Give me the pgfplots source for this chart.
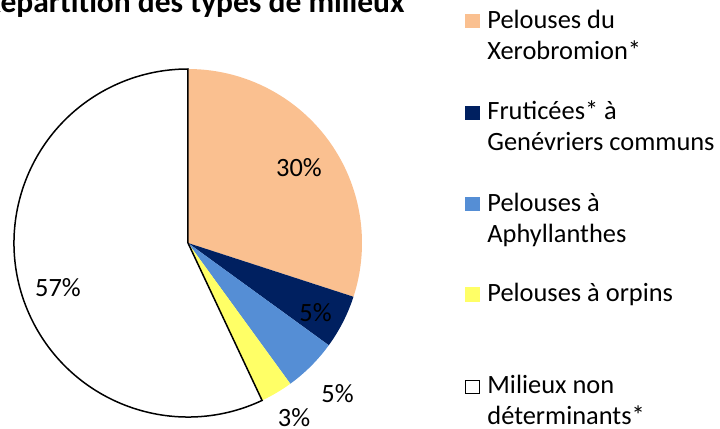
\documentclass[border=0pt]{standalone}
\usepackage{pgfplots}
\pgfplotsset{compat=1.18}
\usepackage{fontspec}
\setmainfont{Carlito}
\definecolor{cxero}{HTML}{FAC090}
\definecolor{cfrut}{HTML}{002060}
\definecolor{caphy}{HTML}{558ED5}
\definecolor{corp}{HTML}{FFFF66}
% #1 cumulative start (%), #2 value (%), #3 style
\newcommand{\slice}[3]{%
  \pgfmathsetmacro\sa{90-3.6*#1}%
  \pgfmathsetmacro\sb{90-3.6*(#1+#2)}%
  \edef\tmp{\noexpand\path[#3] (axis cs:188,186) -- ++(\sa:87pt) arc[start angle=\sa, end angle=\sb, radius=87pt] -- cycle;}%
  \tmp}
\newcommand{\lf}{\fontsize{13.2}{16}\selectfont}
\begin{document}
\begin{tikzpicture}
\begin{axis}[hide axis, x=0.5pt, y=0.5pt, xmin=0, xmax=720, ymin=0, ymax=429,
  clip=false, axis line style={draw=none}]
% pie slices: Xerobromion 30, Fruticees 5, Aphyllanthes 5, Orpins 3, Milieux 57
\slice{0}{30}{fill=cxero}
\slice{30}{5}{fill=cfrut}
\slice{35}{5}{fill=caphy}
\slice{40}{3}{fill=corp}
\slice{43}{57}{fill=white,draw=black,line width=0.75pt,line join=miter}
% slice labels
\node[anchor=base, font=\lf, inner sep=0pt] at (axis cs:299,252) {30\%};
\node[anchor=base, font=\lf, inner sep=0pt] at (axis cs:315.5,107) {5\%};
\node[anchor=base, font=\lf, inner sep=0pt] at (axis cs:337.5,26) {5\%};
\node[anchor=base, font=\lf, inner sep=0pt] at (axis cs:294,2) {3\%};
\node[anchor=base, font=\lf, inner sep=0pt] at (axis cs:58,132) {57\%};
% title
\node[anchor=base east, font=\fontsize{15.75}{19}\selectfont\bfseries, inner sep=0pt] at (axis cs:405,416) {Répartition des types de milieux};
% legend
\path[fill=cxero] (axis cs:465,401) rectangle (axis cs:480,415);
\node[anchor=base west, font=\lf, inner sep=0pt] at (axis cs:487,400) {Pelouses du};
\node[anchor=base west, font=\lf, inner sep=0pt] at (axis cs:487,369) {Xerobromion*};
\path[fill=cfrut] (axis cs:465,309) rectangle (axis cs:480,323);
\node[anchor=base west, font=\lf, inner sep=0pt] at (axis cs:487,309) {Fruticées* à};
\node[anchor=base west, font=\lf, inner sep=0pt] at (axis cs:487,278) {Genévriers communs};
\path[fill=caphy] (axis cs:465,218) rectangle (axis cs:480,232);
\node[anchor=base west, font=\lf, inner sep=0pt] at (axis cs:487,217) {Pelouses à};
\node[anchor=base west, font=\lf, inner sep=0pt] at (axis cs:487,186) {Aphyllanthes};
\path[fill=corp] (axis cs:465,127) rectangle (axis cs:480,142);
\node[anchor=base west, font=\lf, inner sep=0pt] at (axis cs:487,127) {Pelouses à orpins};
\path[fill=white, draw=black, line width=0.6pt] (axis cs:465.5,35.5) rectangle (axis cs:479.5,48.5);
\node[anchor=base west, font=\lf, inner sep=0pt] at (axis cs:487,35) {Milieux non};
\node[anchor=base west, font=\lf, inner sep=0pt] at (axis cs:487,4) {déterminants*};
\end{axis}
\pgfresetboundingbox
\path[use as bounding box] (current axis.south west) rectangle (current axis.north east);
\end{tikzpicture}
\end{document}
